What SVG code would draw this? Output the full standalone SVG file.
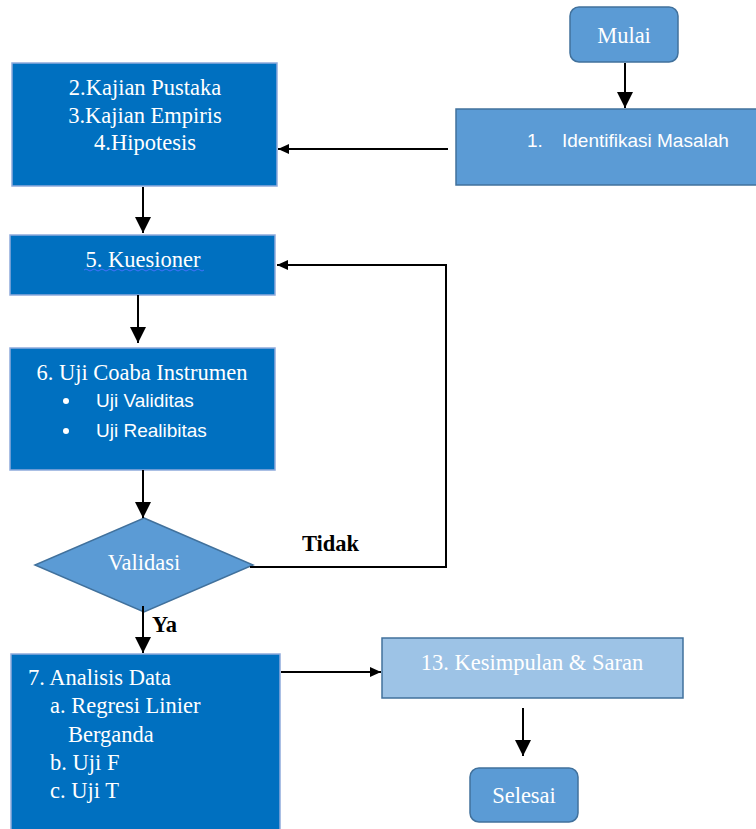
<svg xmlns="http://www.w3.org/2000/svg" width="756" height="829" viewBox="0 0 756 829">
<defs>
<marker id="big" markerUnits="userSpaceOnUse" markerWidth="18" markerHeight="18" refX="16" refY="8" orient="auto"><path d="M0,0 L16,8 L0,16 Z" fill="#000"/></marker>
<marker id="small" markerUnits="userSpaceOnUse" markerWidth="12" markerHeight="12" refX="11" refY="5" orient="auto"><path d="M0,0 L11,5 L0,10 Z" fill="#000"/></marker>
</defs>
<style>
.dark{fill:#0070C0;stroke:#8FAADC;stroke-width:1.5}
.mid{fill:#5B9BD5;stroke:#41719C;stroke-width:1.5}
.light{fill:#9DC3E6;stroke:#41719C;stroke-width:1.5}
.t{font-family:"Liberation Serif","Times New Roman",serif;font-size:22.5px;fill:#fff}
.c{font-family:"Liberation Sans",Arial,sans-serif;font-size:19px;fill:#fff}
.b{font-family:"Liberation Serif","Times New Roman",serif;font-size:22.5px;font-weight:bold;fill:#000}
.ln{stroke:#000;stroke-width:2;fill:none}
</style>
<rect width="756" height="829" fill="#fff"/>
<g id="mulai"><rect class="mid" x="570" y="7" width="108" height="55" rx="9"/><text class="t" x="624" y="43" text-anchor="middle">Mulai</text></g>
<g id="identifikasi"><rect class="mid" x="456" y="109" width="305" height="76"/><text class="c" x="527" y="147">1.</text><text class="c" x="562" y="147">Identifikasi Masalah</text></g>
<g id="kajian"><rect class="dark" x="12" y="63" width="265" height="123"/><text class="t" x="145" y="95" text-anchor="middle">2.Kajian Pustaka</text><text class="t" x="145" y="123" text-anchor="middle">3.Kajian Empiris</text><text class="t" x="145" y="150" text-anchor="middle">4.Hipotesis</text></g>
<g id="kuesioner"><rect class="dark" x="10" y="235" width="265" height="60"/><text class="t" x="143" y="267" text-anchor="middle">5. Kuesioner</text><path d="M84,270 q2,-2 4,0 t4,0 t4,0 t4,0 t4,0 t4,0 t4,0 t4,0 t4,0 t4,0 t4,0 t4,0 t4,0 t4,0 t4,0 t4,0 t4,0 t4,0 t4,0 t4,0 t4,0 t4,0 t4,0 t4,0 t4,0 t4,0 t4,0 t4,0 t4,0 t4,0" stroke="#4472FF" stroke-width="1" fill="none"/></g>
<g id="uji"><rect class="dark" x="10" y="348" width="265" height="122"/><text class="t" x="142" y="380" text-anchor="middle">6. Uji Coaba Instrumen</text><circle cx="66" cy="401" r="3" fill="#fff"/><text class="c" x="96" y="407">Uji Validitas</text><circle cx="66" cy="431" r="3" fill="#fff"/><text class="c" x="96" y="437">Uji Realibitas</text></g>
<g id="validasi"><polygon class="mid" points="144,518 253,565 144,612 35,565"/><text class="t" x="144" y="570" text-anchor="middle">Validasi</text></g>
<g id="analisis"><rect class="dark" x="11" y="654" width="269" height="180"/><text class="t" x="28" y="685">7. Analisis Data</text><text class="t" x="50" y="713">a. Regresi Linier</text><text class="t" x="68" y="742">Berganda</text><text class="t" x="50" y="770">b. Uji F</text><text class="t" x="50" y="798">c. Uji T</text></g>
<g id="kesimpulan"><rect class="light" x="382" y="638" width="301" height="60"/><text class="t" x="532" y="670" text-anchor="middle">13. Kesimpulan &amp; Saran</text></g>
<g id="selesai"><rect class="mid" x="470" y="768" width="108" height="54" rx="9"/><text class="t" x="524" y="803" text-anchor="middle">Selesai</text></g>
<g id="connectors">
<line class="ln" x1="625" y1="63" x2="625" y2="108" marker-end="url(#big)"/>
<line class="ln" x1="448" y1="149" x2="278" y2="149" marker-end="url(#small)"/>
<line class="ln" x1="143" y1="187" x2="143" y2="233" marker-end="url(#big)"/>
<line class="ln" x1="138" y1="295" x2="138" y2="343" marker-end="url(#big)"/>
<line class="ln" x1="143" y1="470" x2="143" y2="518" marker-end="url(#big)"/>
<polyline class="ln" points="250,567 446,567 446,265 277,265" marker-end="url(#small)"/>
<line class="ln" x1="143" y1="606" x2="143" y2="653" marker-end="url(#big)"/>
<line class="ln" x1="281" y1="672" x2="381" y2="672" marker-end="url(#small)"/>
<line class="ln" x1="523" y1="708" x2="523" y2="756" marker-end="url(#big)"/>
<text class="b" x="302" y="551">Tidak</text>
<text class="b" x="152" y="632">Ya</text>
</g>
</svg>
